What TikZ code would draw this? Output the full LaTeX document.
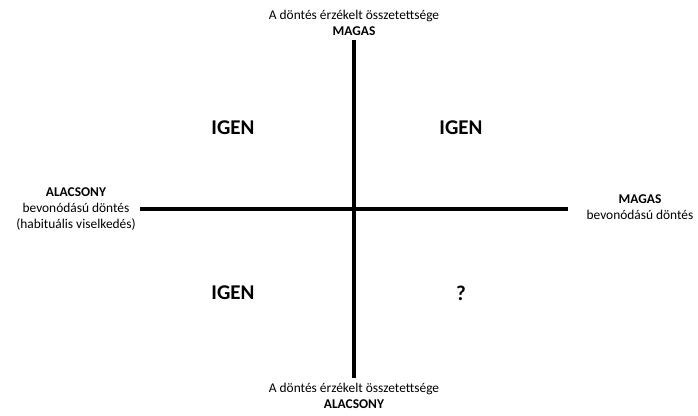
\documentclass[tikz,border=0pt]{standalone}
\usepackage{fontspec}
\setmainfont{Carlito}
\begin{document}
\begin{tikzpicture}[x=1pt,y=-1pt,
  axis/.style={line width=4pt},
  lbl/.style={font=\fontsize{13.4}{16}\selectfont, align=center, inner sep=0pt},
  big/.style={font=\fontsize{21}{24}\selectfont\bfseries, inner sep=0pt}]
\useasboundingbox (0,0) rectangle (698,415);
\coordinate (vt) at (354,40);
\coordinate (vb) at (354,378);
\coordinate (hl) at (140,209);
\coordinate (hr) at (568,209);
\draw[axis] (vt) -- (vb);
\draw[axis] (hl) -- (hr);
\node[lbl] (top) at (354,23) {A döntés érzékelt összetettsége\\\textbf{MAGAS}};
\node[lbl] (bot) at (354,396) {A döntés érzékelt összetettsége\\\textbf{ALACSONY}};
\node[lbl] (left) at (76,209) {\textbf{ALACSONY}\\bevonódású döntés\\(habituális viselkedés)};
\node[lbl] (right) at (640,207) {\textbf{MAGAS}\\bevonódású döntés};
\node[big] (q1) at (233,128) {IGEN};
\node[big] (q2) at (461,128) {IGEN};
\node[big] (q3) at (233,293) {IGEN};
\node[big] (q4) at (461,293) {?};
\end{tikzpicture}
\end{document}
